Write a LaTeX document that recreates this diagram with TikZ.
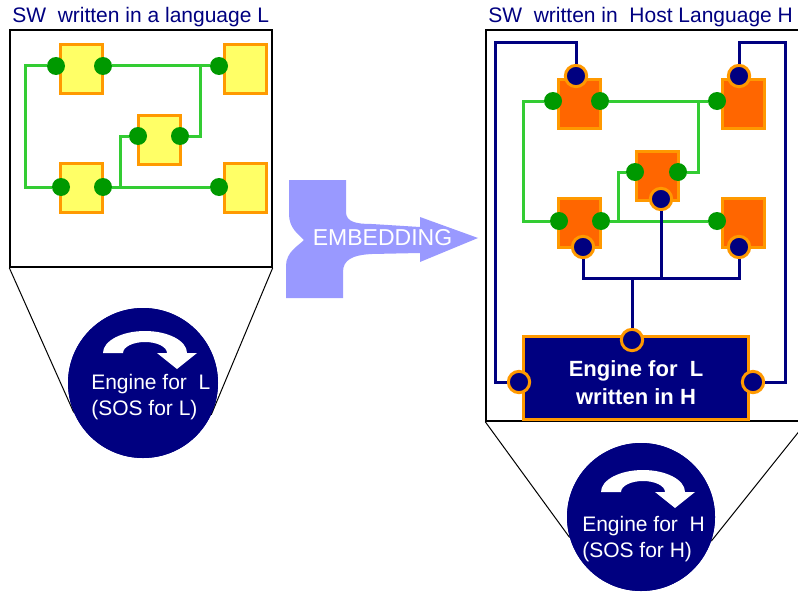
\documentclass[tikz,border=0pt]{standalone}
\usepackage{fontspec}
\setmainfont{Liberation Sans}
\usetikzlibrary{positioning,calc}
\definecolor{navyc}{HTML}{000080}
\definecolor{orangec}{HTML}{FF9900}
\definecolor{yellowc}{HTML}{FFFF66}
\definecolor{firec}{HTML}{FF6600}
\definecolor{portc}{HTML}{009900}
\definecolor{wirec}{HTML}{33CC33}
\definecolor{embc}{HTML}{9999FF}

\begin{document}
\begin{tikzpicture}[x=0.75pt, y=-0.75pt,
  frame/.style={draw, line width=1.1pt, inner sep=0pt},
  comp/.style={draw=orangec, line width=2.25pt, minimum width=31.5pt,
               minimum height=36.75pt, inner sep=0pt},
  compL/.style={comp, fill=yellowc},
  compH/.style={comp, fill=firec},
  gport/.style={circle, fill=portc, minimum size=13.5pt, inner sep=0pt},
  nport/.style={circle, fill=navyc, draw=orangec, line width=2.25pt,
                minimum size=16pt, inner sep=0pt},
  wire/.style={draw=wirec, line width=2.25pt},
  bus/.style={draw=navyc, line width=2.25pt},
  zoomline/.style={draw, line width=0.75pt},
  sos/.style={circle, fill=navyc, inner sep=0pt},
  ttl/.style={anchor=base west, text=navyc, inner sep=0pt,
              font=\fontsize{15.75}{18}\selectfont},
  sostxt/.style={anchor=west, align=left, text=white, inner sep=0pt,
                 font=\fontsize{15.75}{19.5}\selectfont},
  engine/.style={fill=navyc, draw=orangec, line width=2.25pt, inner sep=0pt,
                 minimum width=168.75pt, minimum height=62.25pt}]
  \useasboundingbox (0,0) rectangle (798,592);

  % language L side
  \node[ttl] (ttlL) at (12,23) {SW\ \ written in a language L};
  \node[frame, minimum width=196.5pt, minimum height=177.75pt] (swL) at (141,148.5) {};
  \node[compL] (l1) at (81.5,69) {};
  \node[compL] (l2) at (245.5,69) {};
  \node[compL] (l3) at (159.5,140) {};
  \node[compL] (l4) at (81.5,187.5) {};
  \node[compL] (l5) at (245.5,187.5) {};
  \node[gport] (l1a) at (56,66) {};
  \node[gport] (l1b) at (103,66) {};
  \node[gport] (l2a) at (219,66) {};
  \node[gport] (l3a) at (138,136) {};
  \node[gport] (l3b) at (180,136) {};
  \node[gport] (l4a) at (61,187) {};
  \node[gport] (l4b) at (103,187) {};
  \node[gport] (l5a) at (219,187) {};
  \coordinate (xl) at (25,0);
  \coordinate (jl1) at (200,66);
  \coordinate (jl2) at (120,187);
  \draw[wire] (l1a) -- (l1a -| xl) |- (l4a);
  \draw[wire] (l1b) -- (l2a);
  \draw[wire] (l3b) -| (jl1);
  \draw[wire] (l4b) -- (l5a);
  \draw[wire] (l3a) -| (jl2);

  \node[sos, minimum size=112.5pt] (sosL) at (143,383) {};
  \draw[zoomline] (swL.south west) -- (sosL.203);
  \draw[zoomline] (swL.south east) -- (sosL.335);
  \node[sos, minimum size=112.5pt] at (sosL) {};
  \node[sostxt] (sosLt) at (91,397) {Engine for\ \ L\\(SOS for L)};

  % embedding arrow
  \fill[embc] (289,180) -- (346,180) -- (346,212)
    .. controls (346,222) and (356,224) .. (372,224) -- (420,227) -- (420,217)
    -- (478,238) -- (420,262) -- (420,253) -- (372,254)
    .. controls (352,255) and (343,260) .. (343,272) -- (343,298) -- (286,298)
    -- (286,266) .. controls (286,252) and (298,246) .. (304,240)
    .. controls (298,234) and (289,228) .. (289,214) -- cycle;
  \node[text=white, font=\fontsize{17.25}{20}\selectfont, inner sep=0pt] (emb) at (382.5,238) {EMBEDDING};

  % host language H side
  \node[ttl] (ttlH) at (488,23) {SW\ \ written in\ \ Host Language H};
  \node[frame, minimum width=240pt, minimum height=293.25pt] (swH) at (646,225.5) {};
  \node[compH] (hA) at (579.5,104) {};
  \node[compH] (hB) at (743,104) {};
  \node[compH] (hC) at (657,175.5) {};
  \node[compH] (hD) at (579.5,223) {};
  \node[compH] (hE) at (743,223) {};
  \node[gport] (hAa) at (553,101) {};
  \node[gport] (hAb) at (600,101) {};
  \node[gport] (hBa) at (717,101) {};
  \node[gport] (hCa) at (635,172) {};
  \node[gport] (hCb) at (678,172) {};
  \node[gport] (hDa) at (559,221) {};
  \node[gport] (hDb) at (601,221) {};
  \node[gport] (hEa) at (717,221) {};
  \node[nport] (hAt) at (576,76) {};
  \node[nport] (hBt) at (739,76) {};
  \node[nport] (hCs) at (661,199) {};
  \node[nport] (hDs) at (583,247) {};
  \node[nport] (hEs) at (739,247) {};
  \coordinate (xh) at (523,0);
  \coordinate (jh1) at (698,101);
  \coordinate (jh2) at (618,221);
  \draw[wire] (hAa) -- (hAa -| xh) |- (hDa);
  \draw[wire] (hAb) -- (hBa);
  \draw[wire] (hCb) -| (jh1);
  \draw[wire] (hDb) -- (hEa);
  \draw[wire] (hCa) -| (jh2);

  \node[engine] (eng) at (636,378) {};
  \node[text=white, align=center, inner sep=0pt,
        font=\bfseries\fontsize{16.5}{21}\selectfont] (engt) at (636,383)
        {Engine for\ \ L\\written in H};
  \node[nport] (eN) at (632,340) {};
  \node[nport] (eW) at (519,382) {};
  \node[nport] (eE) at (753,382) {};
  \coordinate (cTL) at (495,43);
  \coordinate (cTR) at (785,43);
  \coordinate (busY) at (0,278);
  \draw[bus] (hAt) |- (cTL) |- (eW);
  \draw[bus] (hBt) |- (cTR) |- (eE);
  \draw[bus] (hDs) -- (hDs |- busY) -| (hEs);
  \draw[bus] (hCs) -- (hCs |- busY);
  \draw[bus] (eN) -- (eN |- busY);

  \node[sos, minimum size=111pt] (sosH) at (641,517) {};
  \draw[zoomline] (swH.south west) -- (sosH.196);
  \draw[zoomline] (swH.south east) -- (sosH.341);
  \node[sos, minimum size=111pt] at (sosH) {};
  \node[sostxt] (sosHt) at (582,539.5) {Engine for\ \ H\\(SOS for H)};

  \foreach \c/\dy in {sosL/0,sosH/5}
    \fill[white, shift={(\c.center)}, yshift=-0.75*\dy pt] (-40,-30)
      arc[start angle=180, end angle=360, x radius=42, y radius=22]
      -- (54,-30) -- (34,-14) -- (14,-30) -- (24,-30)
      arc[start angle=0, end angle=-180, x radius=22, y radius=11] -- cycle;
\end{tikzpicture}
\end{document}
